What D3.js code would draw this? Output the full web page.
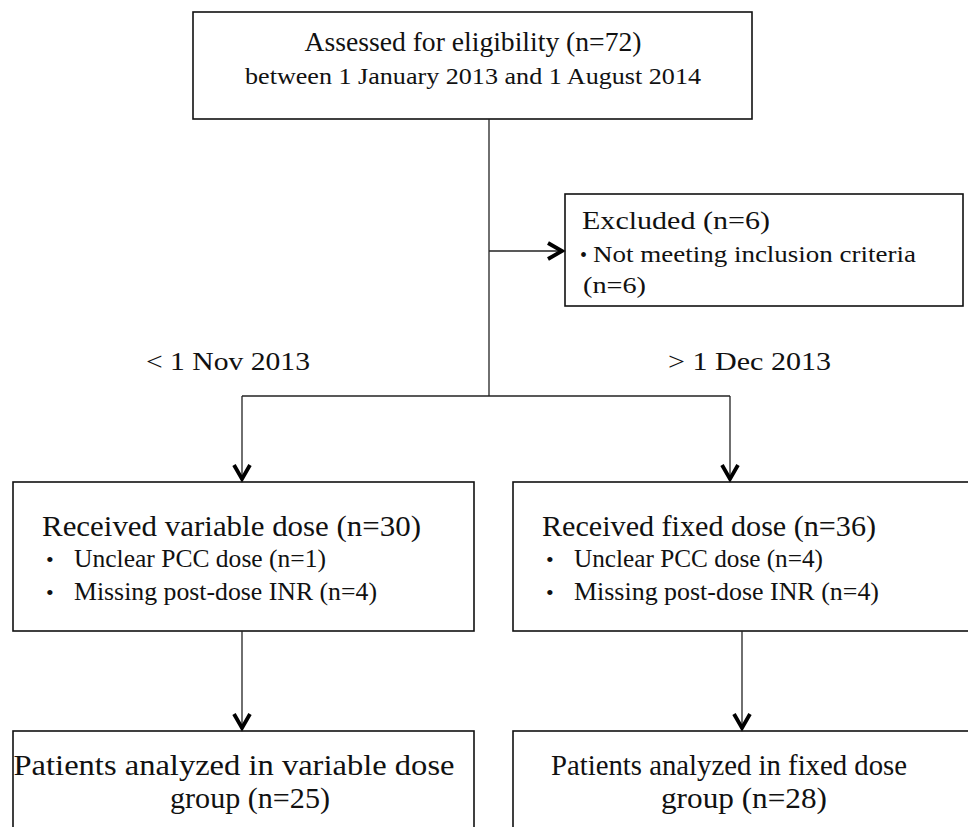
<!DOCTYPE html>
<html lang="en">
<head>
	<meta charset="utf-8">
	<title>Flow diagram</title>
	<script src="https://d3js.org/d3.v7.min.js"></script>
	<style type="text/css">
		body { margin: 0; background: #fff; }
		text { font-family: "Liberation Serif", "Times New Roman", serif; fill: #111; }
	</style>
</head>
<body>
	<script type="text/javascript">

	// diagram content
	var topLines = ["Assessed for eligibility (n=72)", "between 1 January 2013 and 1 August 2014"];
	var excludedTitle = "Excluded (n=6)";
	var excludedItems = ["Not meeting inclusion criteria", "(n=6)"];
	var periodLabels = ["< 1 Nov 2013", "> 1 Dec 2013"];
	var groupTitles = ["Received variable dose (n=30)", "Received fixed dose (n=36)"];
	var groupItems = [
		["Unclear PCC dose (n=1)", "Missing post-dose INR (n=4)"],
		["Unclear PCC dose (n=4)", "Missing post-dose INR (n=4)"]
	];
	var analyzedLines = [
		["Patients analyzed in variable dose", "group (n=25)"],
		["Patients analyzed in fixed dose", "group (n=28)"]
	];

	// init window size
	var w = 968;
	var h = 827;

	// layout (pixels)
	var topBox = {x: 193, y: 12, w: 559, h: 107};
	var exBox = {x: 565, y: 194, w: 398, h: 112};
	var stemX = 489;
	var exArrowY = 251;
	var branchY = 396;
	var colX = [13, 513];       // left edge of group boxes
	var colW = [461, 470];
	var upperArrowX = [242, 730];
	var lowerArrowX = [242, 742];
	var groupBox = {y: 482, h: 149};
	var resultBox = {y: 731, h: 120};

	var svg = d3.select("body")
				.append("svg")
				.attr("width", w)
				.attr("height", h)

	var stroke = "#222";

	function box(b) {
		svg.append("rect")
			.attr("x", b.x).attr("y", b.y)
			.attr("width", b.w).attr("height", b.h)
			.attr("fill", "none")
			.attr("stroke", "#111")
			.attr("stroke-width", 1.6)
	}

	function line(x1, y1, x2, y2) {
		svg.append("line")
			.attr("x1", x1).attr("y1", y1)
			.attr("x2", x2).attr("y2", y2)
			.attr("stroke", stroke)
			.attr("stroke-width", 1.3)
	}

	// open chevron arrow head pointing down or right
	function head(x, y, dir) {
		var pts = dir == "down"
			? [[x - 8, y - 17], [x, y - 3], [x + 8, y - 17]]
			: [[x - 17, y - 8], [x - 3, y], [x - 17, y + 8]];
		svg.append("path")
			.attr("d", d3.line()(pts))
			.attr("fill", "none")
			.attr("stroke", "#000")
			.attr("stroke-width", 3.8)
			.attr("stroke-linejoin", "miter")
	}

	function label(txt, x, y, size, len, anchor) {
		var t = svg.append("text")
			.attr("x", x).attr("y", y)
			.attr("font-size", size)
			.attr("text-anchor", anchor || "start")
			.text(txt)
		if (len) t.attr("textLength", len).attr("lengthAdjust", "spacingAndGlyphs")
		return t
	}

	// top box
	box(topBox)
	var cx = topBox.x + topBox.w / 2
	label(topLines[0], cx + 0.5, 51, 27, 337, "middle")
	label(topLines[1], cx + 0.5, 84, 23, 456, "middle")

	// stem and excluded arrow
	line(stemX, topBox.y + topBox.h, stemX, branchY)
	line(stemX, exArrowY, exBox.x - 3, exArrowY)
	head(exBox.x, exArrowY, "right")

	// excluded box
	box(exBox)
	label(excludedTitle, 582, 229, 26, 188)
	label("•", 580, 262, 20)
	label(excludedItems[0], 593, 262, 23, 323)
	label(excludedItems[1], 583, 293, 23, 63)

	// period labels
	label(periodLabels[0], 146, 370, 26, 164)
	label(periodLabels[1], 668, 370, 26, 163)

	// branch
	line(upperArrowX[0], branchY, upperArrowX[1], branchY)

	var titleLen = [379, 334];
	var itemLen = [[252, 303], [249, 305]];
	var resultLen = [[441, 160], [356, 166]];
	var resultMid = [[234, 250], [729, 744]];

	[0, 1].forEach(function(i) {
		var x0 = colX[i];
		// arrow into group box
		line(upperArrowX[i], branchY, upperArrowX[i], groupBox.y - 3)
		head(upperArrowX[i], groupBox.y, "down")

		box({x: x0, y: groupBox.y, w: colW[i], h: groupBox.h})
		label(groupTitles[i], x0 + 29, 536, 29, titleLen[i])
		groupItems[i].forEach(function(t, j) {
			var y = 567 + j * 33
			label("•", x0 + 33, y, 22)
			label(t, x0 + 61, y, 25, itemLen[i][j])
		})

		// arrow into result box
		line(lowerArrowX[i], groupBox.y + groupBox.h, lowerArrowX[i], resultBox.y - 3)
		head(lowerArrowX[i], resultBox.y, "down")

		box({x: x0, y: resultBox.y, w: colW[i], h: resultBox.h})
		label(analyzedLines[i][0], resultMid[i][0], 775, 30, resultLen[i][0], "middle")
		label(analyzedLines[i][1], resultMid[i][1], 808, 30, resultLen[i][1], "middle")
	})

	</script>
</body>
</html>
